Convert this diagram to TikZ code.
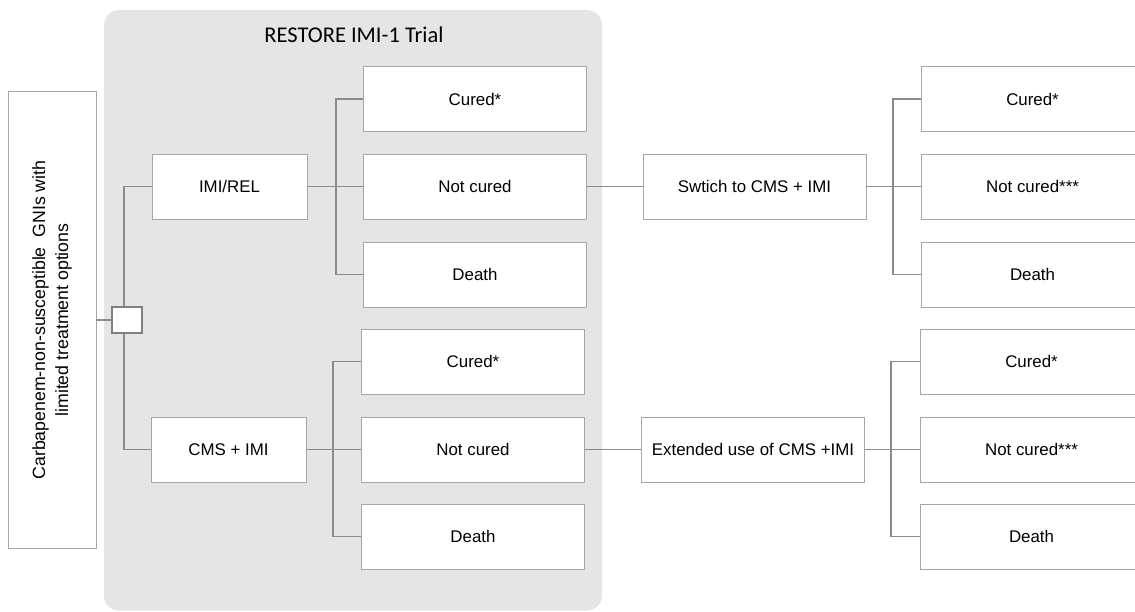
\documentclass[tikz,border=0pt]{standalone}
\usepackage{fontspec}
\setmainfont{Liberation Sans}
\newfontfamily\titlefont{Carlito}
\begin{document}
\begin{tikzpicture}[x=0.025cm, y=-0.025cm,
    box/.style={draw=gray!70, line width=0.6pt, fill=white, minimum width=5.575cm,
      minimum height=1.625cm, inner sep=0pt, font=\fontsize{12}{14}\selectfont},
    armbox/.style={box, minimum width=3.875cm},
    link/.style={draw=gray!90, line width=0.9pt}]

    \clip (0, 0) rectangle (1135, 611);

    % trial panel
    \fill[gray!20, rounded corners=0.375cm] (104, 10) rectangle (602, 610.5);
    \node[font=\titlefont\fontsize{16}{18}\selectfont] (title) at (354, 35) {RESTORE IMI-1 Trial};

    \coordinate (DS) at (127, 320);
    \coordinate (B1) at (336, 186.5);
    \coordinate (B2) at (333, 449.5);
    \coordinate (B3) at (893, 186.5);
    \coordinate (B4) at (891, 449.5);

    \node[box, rotate=90, align=center, minimum width=11.425cm, minimum height=2.2cm,
      font=\fontsize{12.6}{16.3}\selectfont] (gni) at (52, 320)
      {Carbapenem-non-susceptible\ \ GNIs with\\limited treatment options};

    \node[armbox] (imirel) at (229.5, 186.5) {IMI/REL};
    \node[armbox] (cmsimi) at (228.5, 449.5) {CMS + IMI};

    \node[box] (curedA) at (475, 99) {Cured*};
    \node[box] (notA) at (475, 186.5) {Not cured};
    \node[box] (deathA) at (475, 274.5) {Death};

    \node[box] (curedB) at (473, 361.5) {Cured*};
    \node[box] (notB) at (473, 449.5) {Not cured};
    \node[box] (deathB) at (473, 536.5) {Death};

    \node[box] (switch) at (754.5, 186.5) {Swtich to CMS + IMI};
    \node[box] (extend) at (753, 449.5) {Extended use of CMS +IMI};

    \node[box] (curedC) at (1032.5, 99) {Cured*};
    \node[box] (notC) at (1032.5, 186.5) {Not cured***};
    \node[box] (deathC) at (1032.5, 274.5) {Death};

    \node[box] (curedD) at (1031.5, 361.5) {Cured*};
    \node[box] (notD) at (1031.5, 449.5) {Not cured***};
    \node[box] (deathD) at (1031.5, 536.5) {Death};

    % decision tree
    \draw[link] (gni.south) -- (DS);
    \draw[link] (imirel.west) -| (124, 320) |- (cmsimi.west);
    \node[draw=gray, line width=1.2pt, fill=white, minimum width=0.75cm, minimum height=0.65cm,
      inner sep=0pt] (dec) at (DS) {};

    \draw[link] (imirel) -- (B1);
    \draw[link] (B1) |- (curedA);
    \draw[link] (B1) -- (notA);
    \draw[link] (B1) |- (deathA);

    \draw[link] (cmsimi) -- (B2);
    \draw[link] (B2) |- (curedB);
    \draw[link] (B2) -- (notB);
    \draw[link] (B2) |- (deathB);

    \draw[link] (notA) -- (switch);
    \draw[link] (notB) -- (extend);

    \draw[link] (switch) -- (B3);
    \draw[link] (B3) |- (curedC);
    \draw[link] (B3) -- (notC);
    \draw[link] (B3) |- (deathC);

    \draw[link] (extend) -- (B4);
    \draw[link] (B4) |- (curedD);
    \draw[link] (B4) -- (notD);
    \draw[link] (B4) |- (deathD);

\end{tikzpicture}
\end{document}
